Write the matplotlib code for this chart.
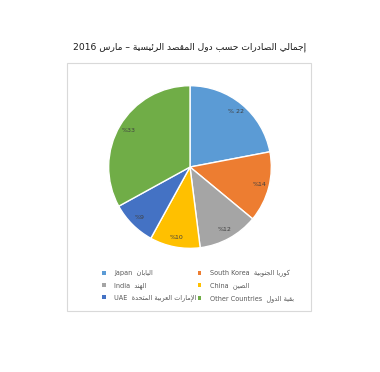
import matplotlib.pyplot as plt
from matplotlib.patches import Rectangle, Patch

# data
categories_en = ["Japan", "South Korea", "India", "China", "UAE", "Other Countries"]
categories_ar = ["اليابان", "كوريا الجنوبية", "الهند", "الصين", "الإمارات العربية المتحدة", "بقية الدول"]
shares = [22, 14, 12, 10, 9, 33]
pct_labels = ["% 22", "%14", "%12", "%10", "%9", "%33"]
colors = ["#5B9BD5", "#ED7D31", "#A5A5A5", "#FFC000", "#4472C4", "#70AD47"]
title_ar = "إجمالي الصادرات حسب دول المقصد الرئيسية – مارس"
title_year = "2016"

# minimal arabic shaping: isolated, final, initial, medial (presentation forms B)
FORMS = {
    'ا': (0xFE8D, 0xFE8E, None, None), 'أ': (0xFE83, 0xFE84, None, None),
    'إ': (0xFE87, 0xFE88, None, None), 'ئ': (0xFE89, 0xFE8A, 0xFE8B, 0xFE8C),
    'ب': (0xFE8F, 0xFE90, 0xFE91, 0xFE92), 'ة': (0xFE93, 0xFE94, None, None),
    'ت': (0xFE95, 0xFE96, 0xFE97, 0xFE98), 'ج': (0xFE9D, 0xFE9E, 0xFE9F, 0xFEA0),
    'ح': (0xFEA1, 0xFEA2, 0xFEA3, 0xFEA4), 'د': (0xFEA9, 0xFEAA, None, None),
    'ر': (0xFEAD, 0xFEAE, None, None), 'س': (0xFEB1, 0xFEB2, 0xFEB3, 0xFEB4),
    'ص': (0xFEB9, 0xFEBA, 0xFEBB, 0xFEBC), 'ع': (0xFEC9, 0xFECA, 0xFECB, 0xFECC),
    'ق': (0xFED5, 0xFED6, 0xFED7, 0xFED8), 'ك': (0xFED9, 0xFEDA, 0xFEDB, 0xFEDC),
    'ل': (0xFEDD, 0xFEDE, 0xFEDF, 0xFEE0), 'م': (0xFEE1, 0xFEE2, 0xFEE3, 0xFEE4),
    'ن': (0xFEE5, 0xFEE6, 0xFEE7, 0xFEE8), 'ه': (0xFEE9, 0xFEEA, 0xFEEB, 0xFEEC),
    'و': (0xFEED, 0xFEEE, None, None), 'ي': (0xFEF1, 0xFEF2, 0xFEF3, 0xFEF4),
}
LAM_ALEF = {'ا': (0xFEFB, 0xFEFC), 'أ': (0xFEF7, 0xFEF8), 'إ': (0xFEF9, 0xFEFA)}


def joins_next(ch):
    return ch in FORMS and FORMS[ch][2] is not None


def shape(text):
    out = []
    i = 0
    while i < len(text):
        ch = text[i]
        if ch not in FORMS:
            out.append(ch)
            i += 1
            continue
        prev = text[i - 1] if i > 0 else ''
        joined_before = joins_next(prev)
        if ch == 'ل' and i + 1 < len(text) and text[i + 1] in LAM_ALEF:
            iso, fin = LAM_ALEF[text[i + 1]]
            out.append(chr(fin if joined_before else iso))
            i += 2
            continue
        nxt = text[i + 1] if i + 1 < len(text) else ''
        joined_after = joins_next(ch) and nxt in FORMS
        iso, fin, ini, med = FORMS[ch]
        if joined_before and joined_after:
            code = med
        elif joined_before:
            code = fin
        elif joined_after:
            code = ini
        else:
            code = iso
        out.append(chr(code))
        i += 1
    return ''.join(out)[::-1]


fig = plt.figure(figsize=(3.8, 3.72), dpi=100)
fig.patch.set_facecolor("white")

# chart area border
fig.patches.append(Rectangle((0.176, 0.164), 0.642, 0.667, transform=fig.transFigure,
                             fill=False, edgecolor="#D9D9D9", linewidth=0.8))

fig.text(0.5, 0.873, title_year + " " + shape(title_ar), ha="center", va="center",
         fontsize=6.6, color="#1a1a1a", family="DejaVu Sans")

ax = fig.add_axes([0.2816, 0.328, 0.4368, 0.446])
wedges, texts = ax.pie(shares, colors=colors, startangle=90, counterclock=False,
                       labels=pct_labels, labeldistance=0.88,
                       wedgeprops=dict(edgecolor="white", linewidth=1.0),
                       textprops=dict(fontsize=4.5, color="#404040", ha="center", va="center"))
ax.set_aspect("equal")
ax.set_xlim(-1.02, 1.02)
ax.set_ylim(-1.02, 1.02)

legend_labels = [en + "  " + shape(ar) for en, ar in zip(categories_en, categories_ar)]
order = [0, 2, 4, 1, 3, 5]
handles = [Patch(facecolor=colors[i]) for i in order]
fig.legend(handles, [legend_labels[i] for i in order], ncol=2, loc="upper left",
           bbox_to_anchor=(0.253, 0.29), frameon=False, fontsize=4.7,
           handlelength=0.55, handleheight=0.55, handletextpad=1.3,
           columnspacing=0.2, labelspacing=0.85, labelcolor="#595959")

fig.savefig("out.png", dpi=100, facecolor="white")
